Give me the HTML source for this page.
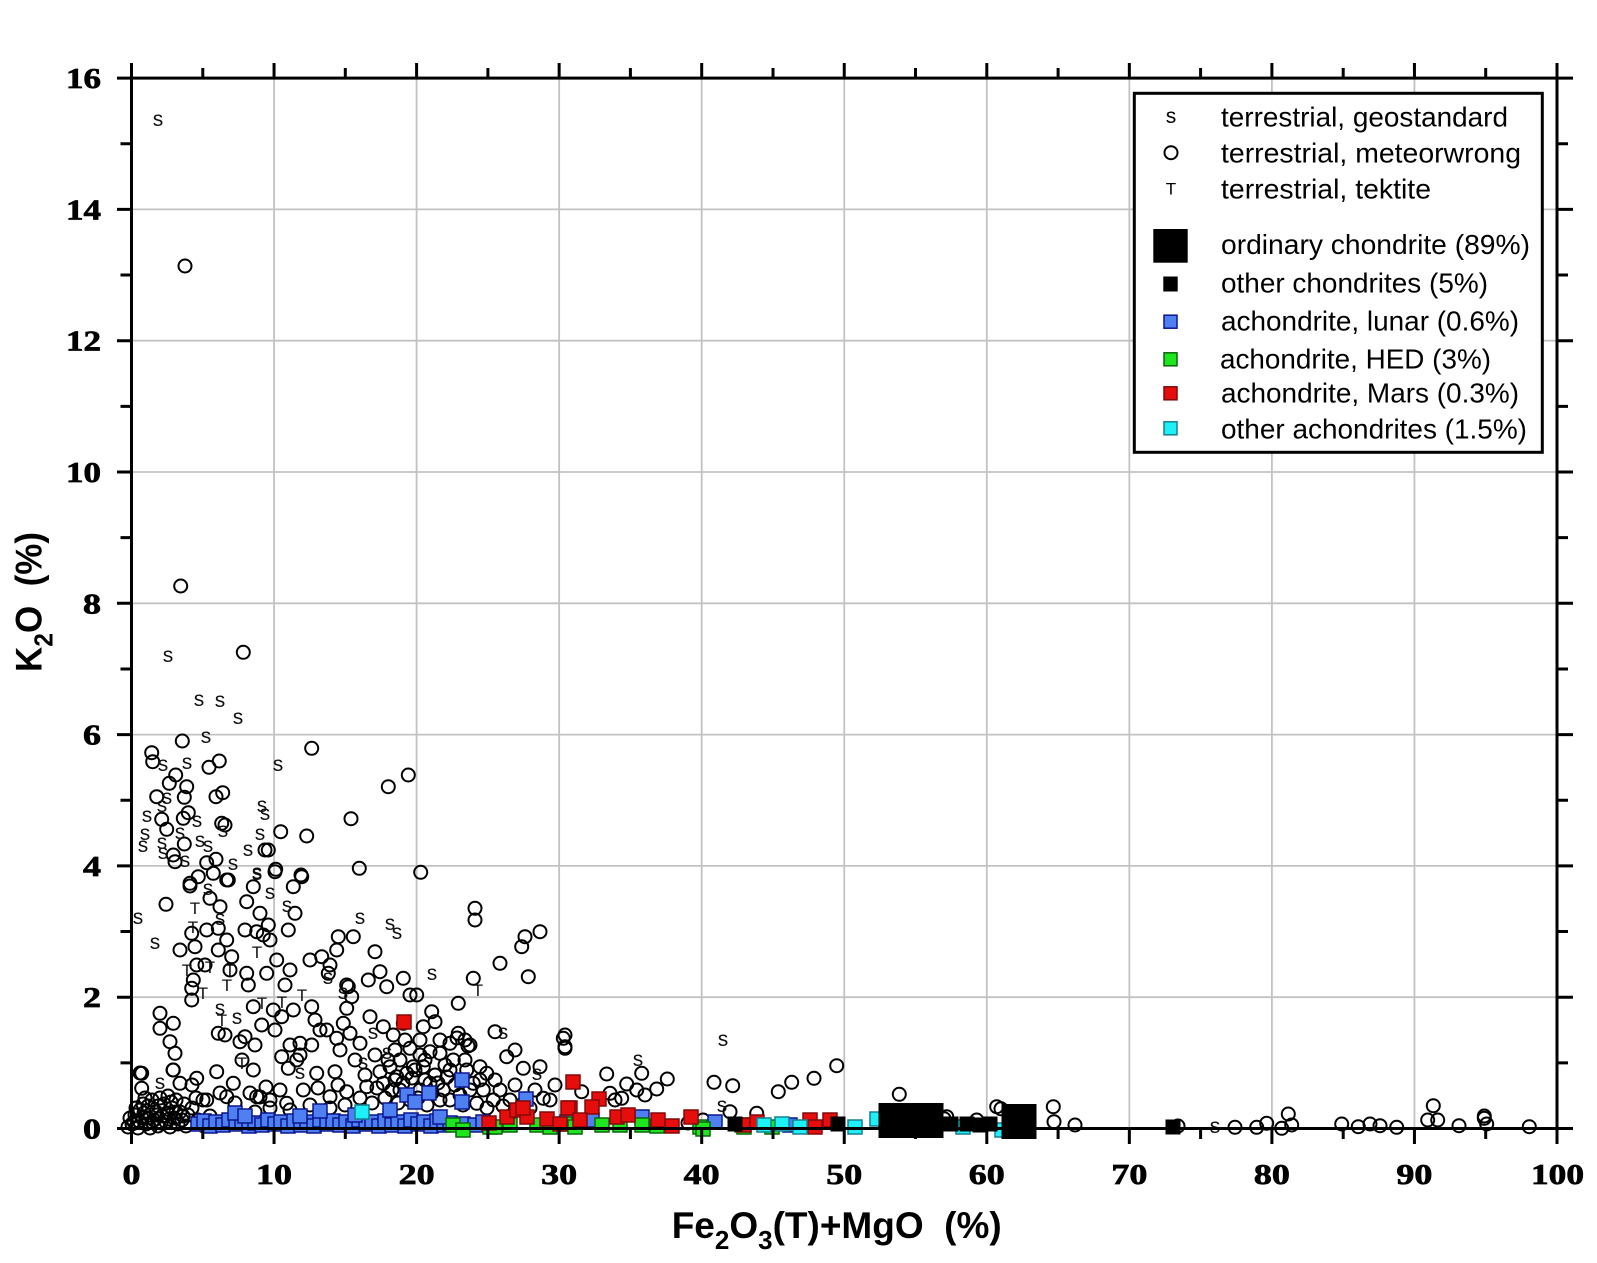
<!DOCTYPE html>
<html><head><meta charset="utf-8"><style>
html,body{margin:0;padding:0;background:#fff;}
svg{display:block;}
.c circle{fill:none;stroke:#000;stroke-width:2;}
.s text{font-family:"Liberation Sans",sans-serif;font-size:21px;fill:#111;text-anchor:middle;}
.t text{font-family:"Liberation Sans",sans-serif;font-size:17px;fill:#111;text-anchor:middle;}
.b rect{fill:#4f80f2;stroke:#0c1690;stroke-width:1.5;}
.g rect{fill:#1ee61e;stroke:#0a660a;stroke-width:1.5;}
.r rect{fill:#e60d0d;stroke:#840808;stroke-width:1.5;}
.y rect{fill:#1ef0f8;stroke:#17808f;stroke-width:1.5;}
.k rect{fill:#000;stroke:#000;stroke-width:1;}
.tl{font-family:"Liberation Serif",serif;font-weight:bold;font-size:29px;fill:#000;stroke:#000;stroke-width:0.7;}
.lg{font-family:"Liberation Sans",sans-serif;font-size:27.5px;fill:#000;}
.ti{font-family:"Liberation Sans",sans-serif;font-weight:bold;font-size:37px;fill:#000;}
</style></head><body>
<svg width="1597" height="1263" viewBox="0 0 1597 1263" xmlns="http://www.w3.org/2000/svg">
<rect x="0" y="0" width="1597" height="1263" fill="#fff"/>
<!-- grid -->
<g stroke="#c2c2c2" stroke-width="1.8">
<path d="M274.05 78V1128.5M416.6 78V1128.5M559.15 78V1128.5M701.7 78V1128.5M844.25 78V1128.5M986.8 78V1128.5M1129.35 78V1128.5M1271.9 78V1128.5M1414.45 78V1128.5"/>
<path d="M131.5 997.2H1557M131.5 865.9H1557M131.5 734.6H1557M131.5 603.3H1557M131.5 472H1557M131.5 340.7H1557M131.5 209.4H1557"/>
</g>
<!-- circles -->
<g class="c">
<circle cx="185" cy="266" r="6.5"/><circle cx="180.7" cy="586" r="6.5"/><circle cx="243.3" cy="652.3" r="6.5"/>
<circle cx="182.3" cy="741" r="6.5"/><circle cx="311.7" cy="748.3" r="6.5"/><circle cx="151.7" cy="752.7" r="6.5"/>
<circle cx="152.7" cy="761.7" r="6.5"/><circle cx="209" cy="767.3" r="6.5"/><circle cx="219.3" cy="761" r="6.5"/>
<circle cx="175.7" cy="775" r="6.5"/><circle cx="169.3" cy="783.3" r="6.5"/><circle cx="186.7" cy="786.7" r="6.5"/>
<circle cx="184.3" cy="797.3" r="6.5"/><circle cx="156.7" cy="796.7" r="6.5"/><circle cx="216" cy="796.7" r="6.5"/>
<circle cx="222.7" cy="792.7" r="6.5"/><circle cx="408.3" cy="775" r="6.5"/><circle cx="388.3" cy="786.7" r="6.5"/>
<circle cx="188.3" cy="812.7" r="6.5"/><circle cx="183.3" cy="818.3" r="6.5"/><circle cx="161.7" cy="819.3" r="6.5"/>
<circle cx="166.7" cy="829.3" r="6.5"/><circle cx="225" cy="825" r="6.5"/><circle cx="221.7" cy="823.3" r="6.5"/>
<circle cx="351" cy="818.7" r="6.5"/><circle cx="280.7" cy="831.7" r="6.5"/><circle cx="306.7" cy="836" r="6.5"/>
<circle cx="184.3" cy="844" r="6.5"/><circle cx="268.3" cy="850" r="6.5"/><circle cx="265" cy="850" r="6.5"/>
<circle cx="216" cy="859.3" r="6.5"/><circle cx="206.7" cy="862.7" r="6.5"/><circle cx="175" cy="861.7" r="6.5"/>
<circle cx="173.3" cy="855" r="6.5"/><circle cx="275.7" cy="869.3" r="6.5"/><circle cx="301" cy="875" r="6.5"/>
<circle cx="359.3" cy="868.3" r="6.5"/><circle cx="420.7" cy="872.3" r="6.5"/><circle cx="198.3" cy="876.7" r="6.5"/>
<circle cx="190" cy="883.3" r="6.5"/><circle cx="228.3" cy="880" r="6.5"/><circle cx="253.3" cy="886.7" r="6.5"/>
<circle cx="293.3" cy="886.7" r="6.5"/><circle cx="213.3" cy="873.3" r="6.5"/>
<circle cx="190" cy="886" r="6.5"/><circle cx="210" cy="898.3" r="6.5"/><circle cx="220" cy="906.7" r="6.5"/>
<circle cx="226.7" cy="880" r="6.5"/><circle cx="275" cy="871.7" r="6.5"/><circle cx="301.7" cy="876.7" r="6.5"/>
<circle cx="246.7" cy="901.7" r="6.5"/><circle cx="166" cy="904.3" r="6.5"/><circle cx="295" cy="913.3" r="6.5"/>
<circle cx="288.3" cy="930" r="6.5"/><circle cx="260" cy="913.3" r="6.5"/><circle cx="268.3" cy="925" r="6.5"/>
<circle cx="270" cy="940" r="6.5"/><circle cx="263.3" cy="935" r="6.5"/><circle cx="245" cy="930" r="6.5"/>
<circle cx="256.7" cy="931.7" r="6.5"/><circle cx="231.7" cy="956.7" r="6.5"/><circle cx="218.3" cy="928.3" r="6.5"/>
<circle cx="206.7" cy="930" r="6.5"/><circle cx="191.7" cy="933.3" r="6.5"/><circle cx="195" cy="946.7" r="6.5"/>
<circle cx="180" cy="950" r="6.5"/><circle cx="205" cy="965" r="6.5"/><circle cx="196.7" cy="965" r="6.5"/>
<circle cx="193.3" cy="980" r="6.5"/><circle cx="191.7" cy="988.3" r="6.5"/><circle cx="191.7" cy="1000" r="6.5"/>
<circle cx="230" cy="970" r="6.5"/><circle cx="246.7" cy="973.3" r="6.5"/><circle cx="266.7" cy="973.3" r="6.5"/>
<circle cx="248.3" cy="985" r="6.5"/><circle cx="290" cy="970" r="6.5"/><circle cx="285" cy="985" r="6.5"/>
<circle cx="276.7" cy="960" r="6.5"/><circle cx="226.7" cy="940" r="6.5"/><circle cx="218.3" cy="950" r="6.5"/>
<circle cx="310" cy="960" r="6.5"/><circle cx="321.7" cy="956.7" r="6.5"/><circle cx="330" cy="965" r="6.5"/>
<circle cx="336.7" cy="950" r="6.5"/><circle cx="338.3" cy="936.7" r="6.5"/><circle cx="353.3" cy="936.7" r="6.5"/>
<circle cx="328.3" cy="973.3" r="6.5"/><circle cx="375" cy="951.7" r="6.5"/><circle cx="380" cy="971.7" r="6.5"/>
<circle cx="403.3" cy="978.3" r="6.5"/><circle cx="386.7" cy="986.7" r="6.5"/><circle cx="368.3" cy="980" r="6.5"/>
<circle cx="348.3" cy="986.7" r="6.5"/><circle cx="410" cy="995" r="6.5"/><circle cx="416.7" cy="995" r="6.5"/>
<circle cx="475" cy="908.3" r="6.5"/><circle cx="475" cy="920" r="6.5"/><circle cx="540" cy="931.7" r="6.5"/>
<circle cx="525" cy="936.7" r="6.5"/><circle cx="521.7" cy="946.7" r="6.5"/><circle cx="500" cy="963.3" r="6.5"/>
<circle cx="528.3" cy="976.7" r="6.5"/><circle cx="473.3" cy="978.3" r="6.5"/><circle cx="458.3" cy="1003.3" r="6.5"/>
<circle cx="495" cy="1031.7" r="6.5"/><circle cx="515" cy="1050" r="6.5"/><circle cx="506.7" cy="1056.7" r="6.5"/>
<circle cx="523.3" cy="1068.3" r="6.5"/><circle cx="540" cy="1066.7" r="6.5"/><circle cx="543.3" cy="1098.3" r="6.5"/>
<circle cx="563.3" cy="1038.3" r="6.5"/><circle cx="565" cy="1048.3" r="6.5"/><circle cx="160" cy="1013.3" r="6.5"/>
<circle cx="160" cy="1028.3" r="6.5"/><circle cx="173.3" cy="1023.3" r="6.5"/><circle cx="170" cy="1041.7" r="6.5"/>
<circle cx="175" cy="1053.3" r="6.5"/><circle cx="173.3" cy="1070" r="6.5"/><circle cx="141.7" cy="1073.3" r="6.5"/>
<circle cx="141.7" cy="1088.3" r="6.5"/><circle cx="196.7" cy="1078.3" r="6.5"/><circle cx="180" cy="1083.3" r="6.5"/>
<circle cx="218.3" cy="1033.3" r="6.5"/><circle cx="225" cy="1035" r="6.5"/><circle cx="245" cy="1036.7" r="6.5"/>
<circle cx="240" cy="1041.7" r="6.5"/><circle cx="255" cy="1045" r="6.5"/><circle cx="261.7" cy="1025" r="6.5"/>
<circle cx="253.3" cy="1006.7" r="6.5"/><circle cx="273.3" cy="1010" r="6.5"/><circle cx="281.7" cy="1016.7" r="6.5"/>
<circle cx="293.3" cy="1010" r="6.5"/><circle cx="275" cy="1030" r="6.5"/><circle cx="290" cy="1045" r="6.5"/>
<circle cx="300" cy="1043.3" r="6.5"/><circle cx="281.7" cy="1056.7" r="6.5"/><circle cx="288.3" cy="1068.3" r="6.5"/>
<circle cx="296.7" cy="1060" r="6.5"/><circle cx="311.7" cy="1045" r="6.5"/><circle cx="311.7" cy="1006.7" r="6.5"/>
<circle cx="315" cy="1020" r="6.5"/><circle cx="326.7" cy="1030" r="6.5"/><circle cx="336.7" cy="1038.3" r="6.5"/>
<circle cx="343.3" cy="1023.3" r="6.5"/><circle cx="350" cy="1033.3" r="6.5"/><circle cx="360" cy="1043.3" r="6.5"/>
<circle cx="346.7" cy="1008.3" r="6.5"/><circle cx="351.7" cy="996.7" r="6.5"/><circle cx="346.7" cy="985" r="6.5"/>
<circle cx="370" cy="1016.7" r="6.5"/><circle cx="383.3" cy="1026.7" r="6.5"/><circle cx="393.3" cy="1035" r="6.5"/>
<circle cx="403.3" cy="1023.3" r="6.5"/><circle cx="423.3" cy="1026.7" r="6.5"/><circle cx="431.7" cy="1011.7" r="6.5"/>
<circle cx="435" cy="1021.7" r="6.5"/><circle cx="410" cy="1048.3" r="6.5"/><circle cx="420" cy="1055" r="6.5"/>
<circle cx="430" cy="1051.7" r="6.5"/><circle cx="440" cy="1053.3" r="6.5"/><circle cx="450" cy="1043.3" r="6.5"/>
<circle cx="458.3" cy="1033.3" r="6.5"/><circle cx="470" cy="1045" r="6.5"/><circle cx="480" cy="1066.7" r="6.5"/>
<circle cx="486.7" cy="1073.3" r="6.5"/><circle cx="495" cy="1080" r="6.5"/><circle cx="466.7" cy="1070" r="6.5"/>
<circle cx="453.3" cy="1060" r="6.5"/><circle cx="390" cy="1066.7" r="6.5"/><circle cx="380" cy="1071.7" r="6.5"/>
<circle cx="383.3" cy="1083.3" r="6.5"/><circle cx="396.7" cy="1076.7" r="6.5"/><circle cx="406.7" cy="1073.3" r="6.5"/>
<circle cx="413.3" cy="1066.7" r="6.5"/><circle cx="366.7" cy="1086.7" r="6.5"/><circle cx="346.7" cy="1091.7" r="6.5"/>
<circle cx="330" cy="1096.7" r="6.5"/><circle cx="316.7" cy="1073.3" r="6.5"/><circle cx="303.3" cy="1090" r="6.5"/>
<circle cx="335" cy="1071.7" r="6.5"/><circle cx="253.3" cy="1070" r="6.5"/><circle cx="233.3" cy="1083.3" r="6.5"/>
<circle cx="216.7" cy="1071.7" r="6.5"/><circle cx="226.7" cy="1096.7" r="6.5"/><circle cx="206.7" cy="1100" r="6.5"/>
<circle cx="256.7" cy="1096.7" r="6.5"/><circle cx="270" cy="1100" r="6.5"/><circle cx="286.7" cy="1103.3" r="6.5"/>
<circle cx="430" cy="1083.3" r="6.5"/><circle cx="443.3" cy="1090" r="6.5"/><circle cx="450" cy="1100" r="6.5"/>
<circle cx="473.3" cy="1083.3" r="6.5"/><circle cx="483.3" cy="1090" r="6.5"/><circle cx="493.3" cy="1100" r="6.5"/>
<circle cx="476.7" cy="1103.3" r="6.5"/><circle cx="423.3" cy="1066.7" r="6.5"/><circle cx="450" cy="1070" r="6.5"/>
<circle cx="510" cy="1100" r="6.5"/><circle cx="523.3" cy="1103.3" r="6.5"/><circle cx="465" cy="1040" r="6.5"/>
<circle cx="468" cy="1046" r="6.5"/><circle cx="457" cy="1038" r="6.5"/>
<!-- fill-ins -->
<circle cx="300" cy="1055" r="6.5"/><circle cx="320" cy="1030" r="6.5"/><circle cx="340" cy="1050" r="6.5"/>
<circle cx="355" cy="1060" r="6.5"/><circle cx="365" cy="1075" r="6.5"/><circle cx="375" cy="1055" r="6.5"/>
<circle cx="395" cy="1050" r="6.5"/><circle cx="405" cy="1040" r="6.5"/><circle cx="415" cy="1070" r="6.5"/>
<circle cx="425" cy="1080" r="6.5"/><circle cx="435" cy="1075" r="6.5"/><circle cx="445" cy="1065" r="6.5"/>
<circle cx="455" cy="1085" r="6.5"/><circle cx="400" cy="1090" r="6.5"/><circle cx="385" cy="1098" r="6.5"/>
<circle cx="410" cy="1100" r="6.5"/><circle cx="440" cy="1100" r="6.5"/><circle cx="460" cy="1095" r="6.5"/>
<circle cx="470" cy="1090" r="6.5"/><circle cx="420" cy="1090" r="6.5"/><circle cx="395" cy="1080" r="6.5"/>
<circle cx="360" cy="1098" r="6.5"/><circle cx="345" cy="1105" r="6.5"/><circle cx="330" cy="1108" r="6.5"/>
<circle cx="310" cy="1105" r="6.5"/><circle cx="290" cy="1110" r="6.5"/><circle cx="270" cy="1108" r="6.5"/>
<circle cx="255" cy="1112" r="6.5"/><circle cx="500" cy="1090" r="6.5"/><circle cx="515" cy="1085" r="6.5"/>
<circle cx="535" cy="1090" r="6.5"/><circle cx="550" cy="1100" r="6.5"/><circle cx="555" cy="1085" r="6.5"/>
<circle cx="480" cy="1080" r="6.5"/><circle cx="465" cy="1060" r="6.5"/><circle cx="440" cy="1040" r="6.5"/>
<circle cx="420" cy="1040" r="6.5"/><circle cx="400" cy="1060" r="6.5"/><circle cx="425" cy="1060" r="6.5"/>
<circle cx="140" cy="1073" r="6.5"/><circle cx="173" cy="1070" r="6.5"/><circle cx="192" cy="1085" r="6.5"/>
<circle cx="203" cy="1100" r="6.5"/><circle cx="220" cy="1093" r="6.5"/><circle cx="235" cy="1103" r="6.5"/>
<circle cx="250" cy="1093" r="6.5"/><circle cx="260" cy="1097" r="6.5"/>
<circle cx="388" cy="1060" r="6.5"/><circle cx="403" cy="1083" r="6.5"/><circle cx="412" cy="1078" r="6.5"/>
<circle cx="418" cy="1098" r="6.5"/><circle cx="432" cy="1093" r="6.5"/><circle cx="438" cy="1083" r="6.5"/>
<circle cx="447" cy="1077" r="6.5"/><circle cx="392" cy="1090" r="6.5"/><circle cx="377" cy="1088" r="6.5"/>
<circle cx="372" cy="1103" r="6.5"/><circle cx="398" cy="1103" r="6.5"/><circle cx="427" cy="1105" r="6.5"/>
<circle cx="463" cy="1105" r="6.5"/><circle cx="487" cy="1108" r="6.5"/><circle cx="503" cy="1106" r="6.5"/>
<circle cx="530" cy="1108" r="6.5"/><circle cx="318" cy="1088" r="6.5"/><circle cx="338" cy="1085" r="6.5"/>
<circle cx="242" cy="1060" r="6.5"/><circle cx="266" cy="1087" r="6.5"/><circle cx="280" cy="1090" r="6.5"/>
<!-- bottom-left blob -->
<circle cx="128" cy="1127" r="6.5"/><circle cx="134" cy="1122" r="6.5"/><circle cx="138" cy="1128" r="6.5"/>
<circle cx="142" cy="1118" r="6.5"/><circle cx="146" cy="1124" r="6.5"/><circle cx="150" cy="1128" r="6.5"/>
<circle cx="154" cy="1120" r="6.5"/><circle cx="158" cy="1126" r="6.5"/><circle cx="162" cy="1116" r="6.5"/>
<circle cx="166" cy="1122" r="6.5"/><circle cx="170" cy="1127" r="6.5"/><circle cx="174" cy="1118" r="6.5"/>
<circle cx="178" cy="1124" r="6.5"/><circle cx="182" cy="1120" r="6.5"/><circle cx="186" cy="1126" r="6.5"/>
<circle cx="140" cy="1110" r="6.5"/><circle cx="148" cy="1106" r="6.5"/><circle cx="156" cy="1112" r="6.5"/>
<circle cx="164" cy="1104" r="6.5"/><circle cx="172" cy="1108" r="6.5"/><circle cx="180" cy="1112" r="6.5"/>
<circle cx="188" cy="1115" r="6.5"/><circle cx="135" cy="1115" r="6.5"/><circle cx="152" cy="1100" r="6.5"/>
<circle cx="160" cy="1098" r="6.5"/><circle cx="168" cy="1096" r="6.5"/><circle cx="145" cy="1098" r="6.5"/>
<circle cx="176" cy="1100" r="6.5"/><circle cx="192" cy="1108" r="6.5"/><circle cx="198" cy="1120" r="6.5"/>
<circle cx="204" cy="1126" r="6.5"/><circle cx="210" cy="1116" r="6.5"/><circle cx="196" cy="1098" r="6.5"/>
<circle cx="130" cy="1118" r="6.5"/><circle cx="184" cy="1104" r="6.5"/><circle cx="144" cy="1113" r="6.5"/>
<circle cx="167" cy="1113" r="6.5"/><circle cx="152" cy="1122" r="6.5"/>
<circle cx="132" cy="1124" r="6.5"/><circle cx="139" cy="1121" r="6.5"/><circle cx="148" cy="1118" r="6.5"/>
<circle cx="157" cy="1115" r="6.5"/><circle cx="161" cy="1123" r="6.5"/><circle cx="169" cy="1119" r="6.5"/>
<circle cx="176" cy="1112" r="6.5"/><circle cx="183" cy="1116" r="6.5"/><circle cx="143" cy="1104" r="6.5"/>
<circle cx="158" cy="1106" r="6.5"/><circle cx="171" cy="1102" r="6.5"/><circle cx="136" cy="1108" r="6.5"/>
<!-- mid region -->
<circle cx="565" cy="1035" r="6.5"/><circle cx="565" cy="1046.7" r="6.5"/><circle cx="606.7" cy="1074" r="6.5"/>
<circle cx="641.7" cy="1073.3" r="6.5"/><circle cx="626.7" cy="1084" r="6.5"/><circle cx="667.3" cy="1079" r="6.5"/>
<circle cx="656.7" cy="1089" r="6.5"/><circle cx="645" cy="1095" r="6.5"/><circle cx="636.7" cy="1090" r="6.5"/>
<circle cx="581.7" cy="1091.7" r="6.5"/><circle cx="610" cy="1093.3" r="6.5"/><circle cx="615" cy="1100" r="6.5"/>
<circle cx="621.7" cy="1098.3" r="6.5"/><circle cx="714" cy="1082.3" r="6.5"/><circle cx="732.7" cy="1085.7" r="6.5"/>
<circle cx="778.3" cy="1091.7" r="6.5"/><circle cx="791.7" cy="1082.3" r="6.5"/><circle cx="814" cy="1078.3" r="6.5"/>
<circle cx="836.7" cy="1065.7" r="6.5"/><circle cx="899.3" cy="1094.3" r="6.5"/><circle cx="756.7" cy="1113.3" r="6.5"/>
<circle cx="730" cy="1111.7" r="6.5"/><circle cx="688" cy="1123" r="6.5"/><circle cx="703" cy="1120" r="6.5"/>
<circle cx="946.7" cy="1116.7" r="6.5"/><circle cx="976.7" cy="1120" r="6.5"/><circle cx="996.7" cy="1106.7" r="6.5"/>
<!-- right -->
<circle cx="944" cy="1118.7" r="6.5"/><circle cx="1001" cy="1108.8" r="6.5"/><circle cx="1053.3" cy="1106.7" r="6.5"/>
<circle cx="1054" cy="1121.7" r="6.5"/><circle cx="1075" cy="1125" r="6.5"/><circle cx="1178" cy="1126" r="6.5"/>
<circle cx="1235" cy="1127.3" r="6.5"/><circle cx="1256.7" cy="1127.3" r="6.5"/><circle cx="1266.7" cy="1123.3" r="6.5"/>
<circle cx="1281.7" cy="1128.3" r="6.5"/><circle cx="1288.3" cy="1114" r="6.5"/><circle cx="1291.7" cy="1125" r="6.5"/>
<circle cx="1341.7" cy="1124" r="6.5"/><circle cx="1358.3" cy="1126.7" r="6.5"/><circle cx="1370" cy="1124" r="6.5"/>
<circle cx="1380" cy="1125.7" r="6.5"/><circle cx="1396.7" cy="1127.3" r="6.5"/><circle cx="1433.3" cy="1105.7" r="6.5"/>
<circle cx="1427.7" cy="1120" r="6.5"/><circle cx="1437.7" cy="1120" r="6.5"/><circle cx="1459" cy="1125.7" r="6.5"/>
<circle cx="1484.3" cy="1118.3" r="6.5"/><circle cx="1486.7" cy="1124" r="6.5"/><circle cx="1484.3" cy="1116" r="6.5"/>
<circle cx="1529.3" cy="1126.7" r="6.5"/>
</g>
<!-- s markers -->
<g class="s">
<text x="158" y="126">s</text><text x="168" y="662">s</text><text x="199" y="706">s</text><text x="220" y="707">s</text>
<text x="238" y="724">s</text><text x="206" y="743">s</text><text x="163" y="771">s</text><text x="187" y="769">s</text>
<text x="278" y="771">s</text><text x="167" y="804">s</text><text x="162" y="812">s</text><text x="147" y="822">s</text>
<text x="197" y="827">s</text><text x="262" y="812">s</text><text x="265" y="820">s</text><text x="223" y="837">s</text>
<text x="145" y="840">s</text><text x="143" y="852">s</text><text x="162" y="849">s</text><text x="180" y="839">s</text>
<text x="200" y="847">s</text><text x="208" y="852">s</text><text x="163" y="859">s</text><text x="185" y="867">s</text>
<text x="260" y="840">s</text><text x="248" y="856">s</text><text x="233" y="870">s</text><text x="257" y="879">s</text>
<text x="138" y="924">s</text><text x="155" y="949">s</text><text x="360" y="924">s</text><text x="390" y="930">s</text>
<text x="397" y="939">s</text><text x="432" y="980">s</text><text x="503" y="1039">s</text><text x="537" y="1080">s</text>
<text x="287" y="912">s</text><text x="270" y="899">s</text><text x="257" y="880">s</text><text x="208" y="895">s</text>
<text x="220" y="925">s</text><text x="220" y="1015">s</text><text x="237" y="1024">s</text><text x="373" y="1039">s</text>
<text x="343" y="999">s</text><text x="363" y="1069">s</text><text x="387" y="1059">s</text><text x="160" y="1089">s</text>
<text x="300" y="1079">s</text><text x="328" y="984">s</text><text x="723" y="1046">s</text><text x="638" y="1066">s</text>
<text x="722" y="1112">s</text><text x="1215" y="1133">s</text>
</g>
<!-- T markers -->
<g class="t">
<text x="195" y="914">T</text><text x="193" y="933">T</text><text x="187" y="976">T</text><text x="210" y="973">T</text>
<text x="230" y="976">T</text><text x="203" y="999">T</text><text x="227" y="991">T</text><text x="222" y="1026">T</text>
<text x="242" y="1069">T</text><text x="282" y="1008">T</text><text x="262" y="1009">T</text><text x="302" y="1001">T</text>
<text x="478" y="996">T</text><text x="257" y="958">T</text>
</g>
<!-- blue squares -->
<g class="b">
<rect x="191" y="1117" width="14" height="14"/><rect x="197" y="1114" width="14" height="14"/><rect x="203" y="1119" width="14" height="14"/>
<rect x="209" y="1115" width="14" height="14"/><rect x="216" y="1118" width="14" height="14"/><rect x="222" y="1113" width="14" height="14"/>
<rect x="229" y="1117" width="14" height="14"/><rect x="235" y="1114" width="14" height="14"/><rect x="242" y="1119" width="14" height="14"/>
<rect x="248" y="1116" width="14" height="14"/><rect x="255" y="1118" width="14" height="14"/><rect x="261" y="1113" width="14" height="14"/>
<rect x="268" y="1117" width="14" height="14"/><rect x="274" y="1115" width="14" height="14"/><rect x="281" y="1119" width="14" height="14"/>
<rect x="287" y="1114" width="14" height="14"/><rect x="294" y="1118" width="14" height="14"/><rect x="300" y="1115" width="14" height="14"/>
<rect x="307" y="1119" width="14" height="14"/><rect x="313" y="1113" width="14" height="14"/><rect x="320" y="1117" width="14" height="14"/>
<rect x="326" y="1114" width="14" height="14"/><rect x="333" y="1118" width="14" height="14"/><rect x="339" y="1115" width="14" height="14"/>
<rect x="346" y="1119" width="14" height="14"/><rect x="352" y="1113" width="14" height="14"/><rect x="359" y="1117" width="14" height="14"/>
<rect x="365" y="1115" width="14" height="14"/><rect x="372" y="1119" width="14" height="14"/><rect x="378" y="1114" width="14" height="14"/>
<rect x="385" y="1118" width="14" height="14"/><rect x="391" y="1115" width="14" height="14"/><rect x="398" y="1119" width="14" height="14"/>
<rect x="404" y="1113" width="14" height="14"/><rect x="411" y="1117" width="14" height="14"/><rect x="417" y="1115" width="14" height="14"/>
<rect x="424" y="1119" width="14" height="14"/><rect x="430" y="1114" width="14" height="14"/><rect x="437" y="1118" width="14" height="14"/>
<rect x="443" y="1116" width="14" height="14"/><rect x="456" y="1117" width="14" height="14"/><rect x="468" y="1118" width="14" height="14"/>
<rect x="476" y="1115" width="14" height="14"/>
<rect x="228" y="1106" width="14" height="14"/><rect x="313" y="1104" width="14" height="14"/><rect x="400" y="1088" width="14" height="14"/>
<rect x="408" y="1095" width="14" height="14"/><rect x="422" y="1086" width="14" height="14"/><rect x="455" y="1073" width="14" height="14"/>
<rect x="455" y="1095" width="14" height="14"/><rect x="383" y="1103" width="14" height="14"/><rect x="519" y="1092" width="14" height="14"/>
<rect x="238" y="1109" width="14" height="14"/><rect x="293" y="1109" width="14" height="14"/><rect x="348" y="1108" width="14" height="14"/>
<rect x="433" y="1110" width="14" height="14"/><rect x="560" y="1115" width="14" height="14"/><rect x="585" y="1113" width="14" height="14"/>
<rect x="635" y="1110" width="14" height="14"/><rect x="708" y="1115" width="14" height="14"/><rect x="783" y="1118" width="14" height="14"/>
</g>
<!-- green squares -->
<g class="g">
<rect x="446" y="1118" width="14" height="14"/><rect x="456" y="1123" width="14" height="14"/><rect x="483" y="1120" width="14" height="14"/>
<rect x="503" y="1118" width="14" height="14"/><rect x="530" y="1118" width="14" height="14"/><rect x="543" y="1120" width="14" height="14"/>
<rect x="558" y="1117" width="14" height="14"/><rect x="568" y="1120" width="14" height="14"/><rect x="595" y="1118" width="14" height="14"/>
<rect x="613" y="1118" width="14" height="14"/><rect x="635" y="1118" width="14" height="14"/><rect x="693" y="1120" width="14" height="14"/>
<rect x="735" y="1118" width="14" height="14"/><rect x="765" y="1120" width="14" height="14"/><rect x="488" y="1120" width="14" height="14"/>
<rect x="696" y="1122" width="14" height="14"/><rect x="737" y="1120" width="14" height="14"/><rect x="650" y="1119" width="14" height="14"/>
</g>
<!-- red squares -->
<g class="r">
<rect x="397" y="1015" width="14" height="14"/><rect x="566" y="1075" width="14" height="14"/><rect x="563" y="1101" width="14" height="14"/>
<rect x="500" y="1110" width="14" height="14"/><rect x="510" y="1103" width="14" height="14"/><rect x="520" y="1110" width="14" height="14"/>
<rect x="540" y="1112" width="14" height="14"/><rect x="553" y="1117" width="14" height="14"/><rect x="592" y="1092" width="14" height="14"/>
<rect x="585" y="1100" width="14" height="14"/><rect x="561" y="1101" width="14" height="14"/><rect x="573" y="1113" width="14" height="14"/>
<rect x="610" y="1110" width="14" height="14"/><rect x="621" y="1108" width="14" height="14"/><rect x="651" y="1113" width="14" height="14"/>
<rect x="665" y="1119" width="14" height="14"/><rect x="684" y="1110" width="14" height="14"/><rect x="803" y="1113" width="14" height="14"/>
<rect x="823" y="1113" width="14" height="14"/><rect x="808" y="1120" width="14" height="14"/><rect x="482" y="1116" width="14" height="14"/>
<rect x="516" y="1101" width="14" height="14"/><rect x="737" y="1118" width="14" height="14"/><rect x="750" y="1115" width="14" height="14"/>
</g>
<!-- cyan squares -->
<g class="y">
<rect x="355" y="1105" width="14" height="14"/><rect x="848" y="1120" width="14" height="14"/><rect x="775" y="1117" width="14" height="14"/>
<rect x="757" y="1118" width="14" height="14"/><rect x="870" y="1112" width="14" height="14"/><rect x="793" y="1120" width="14" height="14"/>
<rect x="956" y="1120" width="14" height="14"/><rect x="995" y="1123" width="14" height="14"/>
</g>
<!-- black squares -->
<g class="k">
<rect x="728" y="1117" width="14" height="14"/><rect x="831" y="1117" width="14" height="14"/><rect x="960" y="1117" width="14" height="14"/>
<rect x="983" y="1117" width="14" height="14"/><rect x="1166" y="1120" width="14" height="14"/><rect x="944" y="1117" width="14" height="14"/>
<rect x="973" y="1118" width="14" height="14"/>
<rect x="879" y="1103.5" width="34" height="34"/><rect x="895" y="1103.5" width="34" height="34"/><rect x="909" y="1103.5" width="34" height="34"/>
<rect x="1002" y="1104.5" width="34" height="34"/>
</g>
<!-- axes frame & ticks -->
<rect x="131.5" y="78.1" width="1425.5" height="1050.4" fill="none" stroke="#000" stroke-width="3"/>
<path stroke="#000" stroke-width="3" fill="none" d="
M131.5 63V78M274.05 63V78M416.6 63V78M559.15 63V78M701.7 63V78M844.25 63V78M986.8 63V78M1129.35 63V78M1271.9 63V78M1414.45 63V78M1557 63V78
M202.8 68V78M345.3 68V78M487.9 68V78M630.4 68V78M773 68V78M915.5 68V78M1058.1 68V78M1200.6 68V78M1343.2 68V78M1485.7 68V78
M131.5 1128.5V1144M274.05 1128.5V1144M416.6 1128.5V1144M559.15 1128.5V1144M701.7 1128.5V1144M844.25 1128.5V1144M986.8 1128.5V1144M1129.35 1128.5V1144M1271.9 1128.5V1144M1414.45 1128.5V1144M1557 1128.5V1144
M202.8 1128.5V1139M345.3 1128.5V1139M487.9 1128.5V1139M630.4 1128.5V1139M773 1128.5V1139M915.5 1128.5V1139M1058.1 1128.5V1139M1200.6 1128.5V1139M1343.2 1128.5V1139M1485.7 1128.5V1139
M117 1128.5H131.5M117 997.2H131.5M117 865.9H131.5M117 734.6H131.5M117 603.3H131.5M117 472H131.5M117 340.7H131.5M117 209.4H131.5M117 78.1H131.5
M120.5 1062.85H131.5M120.5 931.55H131.5M120.5 800.25H131.5M120.5 668.95H131.5M120.5 537.65H131.5M120.5 406.35H131.5M120.5 275.05H131.5M120.5 143.75H131.5
M1557 1128.5H1573M1557 997.2H1573M1557 865.9H1573M1557 734.6H1573M1557 603.3H1573M1557 472H1573M1557 340.7H1573M1557 209.4H1573M1557 78.1H1573
M1557 1062.85H1568M1557 931.55H1568M1557 800.25H1568M1557 668.95H1568M1557 537.65H1568M1557 406.35H1568M1557 275.05H1568M1557 143.75H1568"/>
<!-- y tick labels -->
<g class="tl" text-anchor="end">
<text x="101" y="1138.5" textLength="18" lengthAdjust="spacingAndGlyphs">0</text>
<text x="101" y="1007.2" textLength="18" lengthAdjust="spacingAndGlyphs">2</text>
<text x="101" y="875.9" textLength="18" lengthAdjust="spacingAndGlyphs">4</text>
<text x="101" y="744.6" textLength="18" lengthAdjust="spacingAndGlyphs">6</text>
<text x="101" y="613.3" textLength="18" lengthAdjust="spacingAndGlyphs">8</text>
<text x="101" y="482" textLength="35" lengthAdjust="spacingAndGlyphs">10</text>
<text x="101" y="350.7" textLength="35" lengthAdjust="spacingAndGlyphs">12</text>
<text x="101" y="219.4" textLength="35" lengthAdjust="spacingAndGlyphs">14</text>
<text x="101" y="88.1" textLength="35" lengthAdjust="spacingAndGlyphs">16</text>
</g>
<!-- x tick labels -->
<g class="tl" text-anchor="middle">
<text x="131.5" y="1184" textLength="18" lengthAdjust="spacingAndGlyphs">0</text>
<text x="274.05" y="1184" textLength="36" lengthAdjust="spacingAndGlyphs">10</text>
<text x="416.6" y="1184" textLength="36" lengthAdjust="spacingAndGlyphs">20</text>
<text x="559.15" y="1184" textLength="36" lengthAdjust="spacingAndGlyphs">30</text>
<text x="701.7" y="1184" textLength="36" lengthAdjust="spacingAndGlyphs">40</text>
<text x="844.25" y="1184" textLength="36" lengthAdjust="spacingAndGlyphs">50</text>
<text x="986.8" y="1184" textLength="36" lengthAdjust="spacingAndGlyphs">60</text>
<text x="1129.35" y="1184" textLength="36" lengthAdjust="spacingAndGlyphs">70</text>
<text x="1271.9" y="1184" textLength="36" lengthAdjust="spacingAndGlyphs">80</text>
<text x="1414.45" y="1184" textLength="36" lengthAdjust="spacingAndGlyphs">90</text>
<text x="1557.5" y="1184" textLength="53" lengthAdjust="spacingAndGlyphs">100</text>
</g>
<!-- axis titles -->
<text class="ti" x="671.7" y="1238" textLength="330" lengthAdjust="spacingAndGlyphs">Fe<tspan font-size="26" dy="11">2</tspan><tspan dy="-11">O</tspan><tspan font-size="26" dy="11">3</tspan><tspan dy="-11">(T)+MgO&#160;&#160;(%)</tspan></text>
<text class="ti" transform="translate(41.7,672) rotate(-90)" x="0" y="0" textLength="140" lengthAdjust="spacingAndGlyphs">K<tspan font-size="26" dy="11">2</tspan><tspan dy="-11">O&#160;&#160;(%)</tspan></text>
<!-- legend -->
<rect x="1134.3" y="93.3" width="408" height="359" fill="#fff" stroke="#000" stroke-width="3"/>
<text x="1171" y="123" font-family="Liberation Sans, sans-serif" font-size="21" text-anchor="middle">s</text>
<circle cx="1171" cy="152.7" r="6.5" fill="none" stroke="#000" stroke-width="2"/>
<text x="1171" y="194.7" font-family="Liberation Sans, sans-serif" font-size="17" text-anchor="middle">T</text>
<rect x="1153.3" y="229" width="34.4" height="33.7" fill="#000"/>
<rect x="1163.3" y="276.5" width="14.4" height="15" fill="#000"/>
<rect x="1164" y="315.2" width="13" height="13" fill="#4f80f2" stroke="#0c1690" stroke-width="1.5"/>
<rect x="1164" y="352.8" width="13" height="13" fill="#1ee61e" stroke="#0a660a" stroke-width="1.5"/>
<rect x="1164" y="386.8" width="13" height="13" fill="#e60d0d" stroke="#840808" stroke-width="1.5"/>
<rect x="1164" y="421.8" width="13" height="13" fill="#1ef0f8" stroke="#17808f" stroke-width="1.5"/>
<g class="lg">
<text x="1221" y="126.7" textLength="287" lengthAdjust="spacingAndGlyphs">terrestrial, geostandard</text>
<text x="1221" y="162.7" textLength="300" lengthAdjust="spacingAndGlyphs">terrestrial, meteorwrong</text>
<text x="1221" y="198.3" textLength="210" lengthAdjust="spacingAndGlyphs">terrestrial, tektite</text>
<text x="1221" y="254" textLength="309" lengthAdjust="spacingAndGlyphs">ordinary chondrite (89%)</text>
<text x="1221" y="292.3" textLength="267" lengthAdjust="spacingAndGlyphs">other chondrites (5%)</text>
<text x="1221" y="330.7" textLength="298" lengthAdjust="spacingAndGlyphs">achondrite, lunar (0.6%)</text>
<text x="1220" y="368.3" textLength="271" lengthAdjust="spacingAndGlyphs">achondrite, HED (3%)</text>
<text x="1221" y="402.7" textLength="298" lengthAdjust="spacingAndGlyphs">achondrite, Mars (0.3%)</text>
<text x="1221" y="438.3" textLength="306" lengthAdjust="spacingAndGlyphs">other achondrites (1.5%)</text>
</g>
</svg>
</body></html>
